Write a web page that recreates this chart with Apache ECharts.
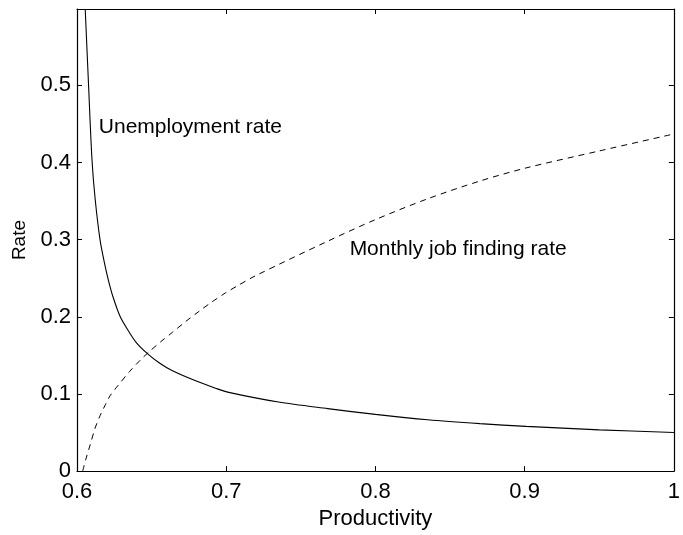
<!DOCTYPE html>
<html>
<head>
<meta charset="utf-8">
<script src="https://cdn.jsdelivr.net/npm/echarts@6/dist/echarts.min.js"></script>
<style>
html,body{margin:0;padding:0;background:#fff;}
#chart{width:683px;height:535px;}
</style>
</head>
<body>
<div id="chart"></div>
<script>
// Productivity values (x) and unemployment rate (solid line)
var prodU = [0.6055, 0.6078, 0.6100, 0.6122, 0.6155, 0.6186, 0.6211, 0.6241, 0.6290, 0.6350, 0.6400, 0.6474, 0.6550, 0.6640, 0.6795, 0.6928, 0.7017, 0.7350, 0.7680, 0.8000, 0.8350, 0.8700, 0.9010, 0.9500, 1.0000];
var unempRate = [0.599, 0.498, 0.405, 0.352, 0.299, 0.268, 0.247, 0.226, 0.200, 0.180, 0.166, 0.152, 0.1405, 0.130, 0.117, 0.1075, 0.102, 0.0895, 0.081, 0.0735, 0.0665, 0.0615, 0.058, 0.0535, 0.050];
// Productivity values (x) and monthly job finding rate (dashed line)
var prodF = [0.6038, 0.6060, 0.6089, 0.6120, 0.6155, 0.6190, 0.6221, 0.6275, 0.6352, 0.6430, 0.6485, 0.6563, 0.6640, 0.6729, 0.6817, 0.6906, 0.6995, 0.7083, 0.7194, 0.7680, 0.8000, 0.8350, 0.8700, 0.9010, 0.9500, 1.0000];
var findRate = [0.000, 0.016, 0.0345, 0.055, 0.072, 0.086, 0.0975, 0.111, 0.129, 0.145, 0.155, 0.168, 0.180, 0.194, 0.207, 0.2195, 0.231, 0.241, 0.253, 0.298, 0.326, 0.353, 0.376, 0.393, 0.415, 0.437];
var xTicks = [0.6, 0.7, 0.8, 0.9, 1];
var yTicks = [0, 0.1, 0.2, 0.3, 0.4, 0.5];
var labelU = 'Unemployment rate';
var labelF = 'Monthly job finding rate';

function pairs(xs, ys) { return xs.map(function (x, i) { return [x, ys[i]]; }); }
function fmt(v) { return String(parseFloat(Number(v).toFixed(3))); }

var FONT = '"Liberation Sans", Arial, Helvetica, sans-serif';
var chart = echarts.init(document.getElementById('chart'), null, {renderer: 'canvas'});

var xCommon = {
  type: 'value', min: xTicks[0], max: xTicks[xTicks.length - 1], interval: 0.1,
  splitLine: {show: false},
  axisLine: {show: true, onZero: false, lineStyle: {color: '#000', width: 1.2}},
  axisTick: {show: true, inside: true, length: 5, lineStyle: {color: '#000', width: 1}}
};
var yCommon = {
  type: 'value', min: yTicks[0], max: 0.599, interval: 0.1,
  splitLine: {show: false},
  axisLine: {show: true, onZero: false, lineStyle: {color: '#000', width: 1.2}},
  axisTick: {show: true, inside: true, length: 5, lineStyle: {color: '#000', width: 1}}
};

var option = {
  backgroundColor: '#fff',
  animation: false,
  grid: {left: 77, right: 4, top: 9, bottom: 51, containLabel: false},
  xAxis: [
    Object.assign({}, xCommon, {
      position: 'bottom',
      name: 'Productivity', nameLocation: 'middle', nameGap: 32,
      nameTextStyle: {fontFamily: FONT, fontSize: 22, color: '#000'},
      axisLabel: {show: true, margin: 10, fontFamily: FONT, fontSize: 22, color: '#000', formatter: fmt}
    }),
    Object.assign({}, xCommon, {position: 'top', axisLabel: {show: false}})
  ],
  yAxis: [
    Object.assign({}, yCommon, {
      position: 'left',
      name: 'Rate', nameLocation: 'middle', nameGap: 48,
      nameTextStyle: {fontFamily: FONT, fontSize: 19, color: '#000'},
      axisLabel: {show: true, margin: 6, fontFamily: FONT, fontSize: 22, color: '#000', showMaxLabel: false, formatter: fmt}
    }),
    Object.assign({}, yCommon, {position: 'right', axisLabel: {show: false}})
  ],
  series: [
    {
      name: labelU, type: 'line', xAxisIndex: 0, yAxisIndex: 0,
      data: pairs(prodU, unempRate), showSymbol: false, symbol: 'none',
      smooth: 0.3, clip: true,
      lineStyle: {color: '#000', width: 1.1, type: 'solid'}
    },
    {
      name: labelF, type: 'line', xAxisIndex: 0, yAxisIndex: 0,
      data: pairs(prodF, findRate), showSymbol: false, symbol: 'none',
      smooth: 0.3, clip: true,
      lineStyle: {color: '#000', width: 1, type: [6, 5]}
    }
  ]
};
chart.setOption(option);

var pU = chart.convertToPixel({gridIndex: 0}, [0.6146, 0.446]);
var pF = chart.convertToPixel({gridIndex: 0}, [0.7827, 0.287]);
chart.setOption({
  graphic: [
    {type: 'text', x: pU[0], y: pU[1], style: {text: labelU, fontFamily: FONT, fontSize: 21, fill: '#000', align: 'left', verticalAlign: 'middle'}},
    {type: 'text', x: pF[0], y: pF[1], style: {text: labelF, fontFamily: FONT, fontSize: 21, fill: '#000', align: 'left', verticalAlign: 'middle'}}
  ]
});
</script>
</body>
</html>
